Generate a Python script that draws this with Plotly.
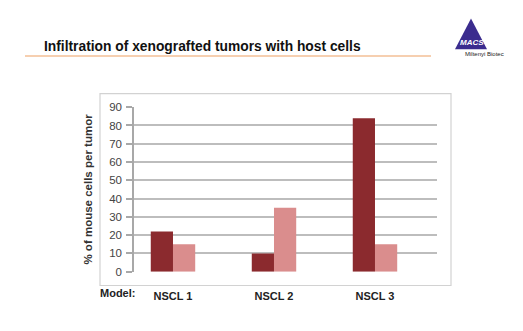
import plotly.graph_objects as go

categories = ["NSCL 1", "NSCL 2", "NSCL 3"]
series_dark = [22, 10, 84]
series_light = [15, 35, 15]
y_ticks = [0, 10, 20, 30, 40, 50, 60, 70, 80, 90]

W, H = 523, 331
def px(x): return x / W
def py(y): return 1 - y / H

fig = go.Figure()
fig.add_trace(go.Bar(x=categories, y=series_dark, marker=dict(color="#8B2A2E", line=dict(width=0)), showlegend=False))
fig.add_trace(go.Bar(x=categories, y=series_light, marker=dict(color="#DA8D8D", line=dict(width=0)), showlegend=False))

fig.update_layout(
    width=W, height=H,
    margin=dict(l=0, r=0, t=0, b=0),
    paper_bgcolor="white", plot_bgcolor="white",
    barmode="group", bargap=0.56, bargroupgap=0,
    font=dict(family="Liberation Sans, Arial, sans-serif"),
    xaxis=dict(domain=[px(134), px(437)], range=[-0.386, 2.614], showgrid=False, showline=False, zeroline=False,
               tickfont=dict(size=11, color="#222", weight="bold"), ticks="",
               ticklabelstandoff=16),
    yaxis=dict(domain=[py(275.7), py(105)], range=[0, 90], tickvals=y_ticks,
               showgrid=True, gridcolor="#BDBDBD", gridwidth=1.5,
               showline=True, linecolor="#A8A8A8", linewidth=1.5,
               ticks="outside", ticklen=6, tickcolor="#A8A8A8", tickwidth=1.5,
               zeroline=False,
               tickfont=dict(size=11.5, color="#444"), ticklabelstandoff=2,
               title=dict(text="% of mouse cells per tumor", font=dict(size=11.5, color="#333", weight="bold"), standoff=14)),
    shapes=[
        dict(type="rect", xref="paper", yref="paper", x0=px(100), x1=px(451), y0=py(290), y1=py(91),
             line=dict(color="#D2D2D2", width=1.2), layer="below"),
        dict(type="line", xref="paper", yref="paper", x0=px(25), x1=px(431), y0=py(52), y1=py(52),
             line=dict(color="#F6CFB0", width=2)),
        dict(type="path", xref="paper", yref="paper",
             path=f"M {px(471)} {py(13)} L {px(455)} {py(45)} L {px(487)} {py(45)} Z",
             fillcolor="#3B2C8E", line=dict(width=0)),
    ],
    annotations=[
        dict(text="<b>Infiltration of xenografted tumors with host cells</b>", xref="paper", yref="paper",
             x=px(42), y=py(42), xanchor="left", yanchor="middle", showarrow=False,
             font=dict(size=13.8, color="#111")),
        dict(text="<b>Model:</b>", xref="paper", yref="paper", x=px(98), y=py(298), xanchor="left", yanchor="middle",
             showarrow=False, font=dict(size=11, color="#222")),
        dict(text="<b><i>MACS</i></b>", xref="paper", yref="paper", x=px(472), y=py(38), xanchor="center", yanchor="middle",
             showarrow=False, font=dict(size=8, color="white")),
        dict(text="Miltenyi Biotec", xref="paper", yref="paper", x=px(484), y=py(50), xanchor="center", yanchor="middle",
             showarrow=False, font=dict(size=6, color="#222")),
    ],
)
fig.write_html("out.html")
